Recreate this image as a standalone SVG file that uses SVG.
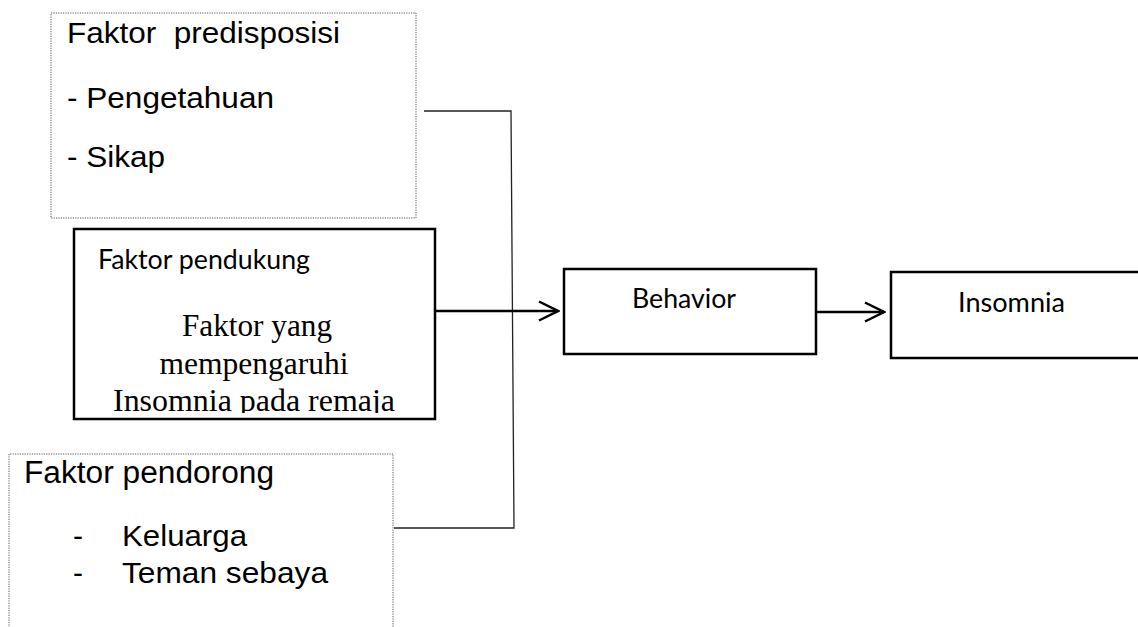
<svg xmlns="http://www.w3.org/2000/svg" width="1138" height="627" viewBox="0 0 1138 627">
  <style>
    .dotbox { fill: #ffffff; stroke: #555555; stroke-width: 1; stroke-dasharray: 1.2 1.2; }
    .solidbox { fill: #ffffff; stroke: #000000; stroke-width: 2.5; }
    .arial { font-family: "Liberation Sans", Arial, sans-serif; fill: #000000; }
    .cal { font-family: Lato, "Open Sans", sans-serif; font-size: 26px; fill: #000000; }
    .times { font-family: "Liberation Serif", "Times New Roman", serif; font-size: 31px; fill: #000000; }
    .thin { fill: none; stroke: #222222; stroke-width: 1.3; }
    .arrow { fill: none; stroke: #000000; stroke-width: 2.5; }
  </style>
  <defs>
    <marker id="chev" markerUnits="userSpaceOnUse" viewBox="-22 -12 24 24" markerWidth="24" markerHeight="24" refX="0" refY="0" orient="auto">
      <path d="M-19,-9.5 L0,0 L-19,9.5" fill="none" stroke="#000000" stroke-width="2.5"/>
    </marker>
    <clipPath id="clipPend">
      <rect x="74" y="229" width="361" height="184"/>
    </clipPath>
  </defs>
  <rect width="1138" height="627" fill="#ffffff"/>

  <g id="connectors">
    <polyline class="thin" points="424,111 511,111 514,528 394,528"/>
    <line class="arrow" x1="436" y1="311" x2="558" y2="311" marker-end="url(#chev)"/>
    <line class="arrow" x1="816" y1="312" x2="884" y2="312" marker-end="url(#chev)"/>
  </g>

  <g id="node-predisposisi">
    <rect class="dotbox" x="51" y="13" width="365" height="205"/>
    <text class="arial" font-size="30" x="67" y="43" textLength="273" lengthAdjust="spacingAndGlyphs" xml:space="preserve">Faktor  predisposisi</text>
    <text class="arial" font-size="30" x="67" y="108" textLength="207" lengthAdjust="spacingAndGlyphs">- Pengetahuan</text>
    <text class="arial" font-size="30" x="67" y="167" textLength="98" lengthAdjust="spacingAndGlyphs">- Sikap</text>
  </g>

  <g id="node-pendukung">
    <rect class="solidbox" x="74" y="229" width="361" height="190"/>
    <text class="cal" x="98" y="269" textLength="212" lengthAdjust="spacingAndGlyphs">Faktor pendukung</text>
    <g clip-path="url(#clipPend)">
      <text class="times" x="257" y="336" text-anchor="middle" textLength="150" lengthAdjust="spacingAndGlyphs">Faktor yang</text>
      <text class="times" x="254" y="374" text-anchor="middle" textLength="189" lengthAdjust="spacingAndGlyphs">mempengaruhi</text>
      <text class="times" x="254" y="411" text-anchor="middle" textLength="282" lengthAdjust="spacingAndGlyphs">Insomnia pada remaja</text>
    </g>
  </g>

  <g id="node-pendorong">
    <path class="dotbox" d="M9,640 L9,454 L393,454 L393,640"/>
    <text class="arial" font-size="31" x="24" y="483" textLength="250" lengthAdjust="spacingAndGlyphs">Faktor pendorong</text>
    <text class="arial" font-size="30" x="73" y="546">-</text>
    <text class="arial" font-size="30" x="122" y="546" textLength="125" lengthAdjust="spacingAndGlyphs">Keluarga</text>
    <text class="arial" font-size="30" x="73" y="583">-</text>
    <text class="arial" font-size="30" x="122" y="583" textLength="206" lengthAdjust="spacingAndGlyphs">Teman sebaya</text>
  </g>

  <g id="node-behavior">
    <rect class="solidbox" x="564" y="269" width="252" height="85"/>
    <text class="cal" x="632" y="308" textLength="104" lengthAdjust="spacingAndGlyphs">Behavior</text>
  </g>

  <g id="node-insomnia">
    <rect class="solidbox" x="891" y="272" width="260" height="86"/>
    <text class="cal" x="958" y="312" textLength="107" lengthAdjust="spacingAndGlyphs">Insomnia</text>
  </g>
</svg>
